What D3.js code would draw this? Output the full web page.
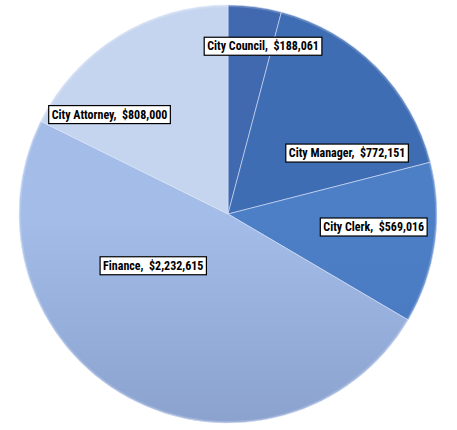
<!DOCTYPE html>
<html>
<head>
<meta charset="utf-8">
<script src="https://cdn.jsdelivr.net/npm/d3@7"></script>
<style>
  html, body { margin: 0; padding: 0; background: #ffffff; }
  svg { display: block; }
</style>
</head>
<body>
<script>
// ---- Data ----
const categories = ["City Council", "City Manager", "City Clerk", "Finance", "City Attorney"];
const values = [188061, 772151, 569016, 2232615, 808000];

// ---- Styling / layout (not data) ----
const colorsTop    = ["#4169b0", "#3f6db3", "#4d7fc7", "#a3bce8", "#c6d5ef"];
const colorsBottom = ["#38599a", "#335a9c", "#4170b4", "#7287b5", "#a8bbdd"];
// label placement: angle (deg, clockwise from 12 o'clock) and fraction of radius
const labelAngle = [11.8, 62.9, 95.1, 235.3, 310.0];
const labelRadius = [0.82, 0.64, 0.70, 0.435, 0.74];

const W = 457, H = 430;
const cx = 228, cy = 214, R = 209;

const svg = d3.select("body").append("svg")
  .attr("width", W).attr("height", H);

const defs = svg.append("defs");
categories.forEach((c, i) => {
  const g = defs.append("linearGradient")
    .attr("id", "grad" + i)
    .attr("gradientUnits", "userSpaceOnUse")
    .attr("x1", 0).attr("y1", cy - R)
    .attr("x2", 0).attr("y2", cy + R);
  g.append("stop").attr("offset", "0%").attr("stop-color", colorsTop[i]);
  g.append("stop").attr("offset", "100%").attr("stop-color", colorsBottom[i]);
});

const pie = d3.pie().sort(null).value(d => d.value);
const arcs = pie(categories.map((c, i) => ({ name: c, value: values[i], i })));

const arc = d3.arc().innerRadius(0).outerRadius(R);
const rimArc = d3.arc().innerRadius(R - 2).outerRadius(R);

const g = svg.append("g").attr("transform", `translate(${cx},${cy})`);

g.selectAll("path.slice").data(arcs).enter().append("path")
  .attr("class", "slice")
  .attr("d", arc)
  .attr("transform", d => `translate(${0},${0})`)
  .attr("fill", d => `url(#grad${d.data.i})`)
  .attr("stroke", "rgba(220,230,250,0.55)")
  .attr("stroke-width", 1);

// subtle rim highlight
g.selectAll("path.rim").data(arcs).enter().append("path")
  .attr("class", "rim")
  .attr("d", rimArc)
  .attr("fill", "rgba(255,255,255,0.18)");

// ---- Labels ----
const fmt = d3.format(",");
const lg = g.append("g");
arcs.forEach((d, i) => {
  const a = labelAngle[i] * Math.PI / 180;
  const r = labelRadius[i] * R;
  const x = r * Math.sin(a), y = -r * Math.cos(a);
  const lab = lg.append("g").attr("transform", `translate(${x},${y})`);
  const rect = lab.append("rect");
  const t = lab.append("text")
    .attr("text-anchor", "middle")
    .attr("dominant-baseline", "central")
    .attr("font-family", "'Liberation Sans Narrow', 'Arial Narrow', 'Roboto Condensed', sans-serif")
    .attr("font-weight", "bold")
    .attr("font-size", 12)
    .attr("fill", "#000")
    .style("white-space", "pre")
    .attr("xml:space", "preserve")
    .text(`${d.data.name},  $${fmt(d.data.value)}`);
  const bb = t.node().getBBox();
  const padX = 3, h = 18;
  rect.attr("x", bb.x - padX).attr("y", -h / 2)
    .attr("width", bb.width + 2 * padX).attr("height", h)
    .attr("fill", "#fff").attr("stroke", "#000").attr("stroke-width", 1.2);
});
</script>
</body>
</html>
